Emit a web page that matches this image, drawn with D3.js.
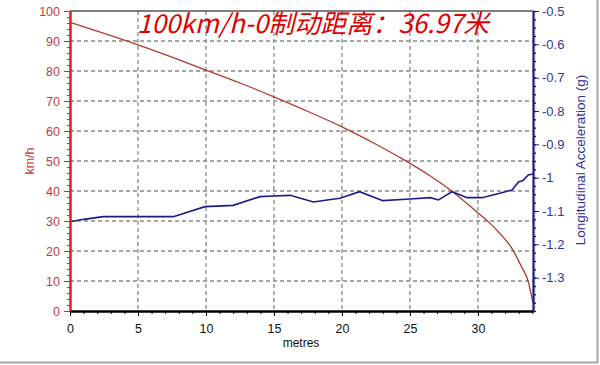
<!DOCTYPE html>
<html>
<head>
<meta charset="utf-8">
<script src="https://cdn.jsdelivr.net/npm/d3@7"></script>
<style>
    body { margin: 0; background: #fff; }
    svg { display: block; }
    .tick text { font-family: Arial, "Liberation Sans", sans-serif; }
</style>
</head>
<body>
<div id="chart"></div>
<script>
// distance along the stop (metres) vs speed (km/h)
let speedDist = [0, 2.45, 5, 7.5, 10, 12.5, 15, 17.5, 20, 22.5, 24.6, 26.5, 28.07, 29.9, 30.76, 31.6, 32.5, 33.2, 33.7, 33.9, 34.05];
let speedVals = [96.2, 92.6, 88.7, 84.6, 80.3, 76, 71.4, 66.5, 61.4, 55.6, 50.3, 45, 40, 33.1, 29.8, 25.9, 20.9, 14.8, 9.8, 5.9, 2.7];

// longitudinal acceleration (g)
let accDist = [0, 1, 2.45, 7.6, 9.93, 12, 13.97, 14.95, 16.2, 17.9, 18.9, 19.85, 21.3, 23, 25, 26.5, 27.1, 28.1, 29.2, 30.3, 31.6, 32.5, 33, 33.3, 33.7, 34.05];
let accVals = [-1.132, -1.125, -1.117, -1.117, -1.087, -1.083, -1.057, -1.055, -1.053, -1.073, -1.067, -1.062, -1.042, -1.069, -1.064, -1.06, -1.067, -1.042, -1.06, -1.06, -1.047, -1.037, -1.012, -1.009, -0.992, -0.989];

let xTicks = [0, 5, 10, 15, 20, 25, 30];
let speedTicks = [0, 10, 20, 30, 40, 50, 60, 70, 80, 90, 100];
let accTicks = [-0.5, -0.6, -0.7, -0.8, -0.9, -1, -1.1, -1.2, -1.3];

let titleText = "100km/h-0制动距离：36.97米";

let width = 600, height = 365;
let margin = { top: 11, right: 67, bottom: 54, left: 70 };

let svg = d3.select("#chart").append("svg")
    .attr("width", width)
    .attr("height", height);

svg.append("rect").attr("width", width).attr("height", height).attr("fill", "#fff");

let x = d3.scaleLinear().domain([0, 34.05]).range([margin.left, width - margin.right]);
let ySpeed = d3.scaleLinear().domain([0, 100]).range([height - margin.bottom, margin.top]);
let yAcc = d3.scaleLinear().domain([-1.4, -0.5]).range([height - margin.bottom, margin.top]);

// dashed grid
let grid = svg.append("g").attr("stroke", "#8a8a8a").attr("stroke-dasharray", "4,3").attr("stroke-width", 1.3);
grid.selectAll(".h").data(speedTicks.filter(d => d > 0 && d < 100)).enter().append("line")
    .attr("x1", margin.left).attr("x2", width - margin.right)
    .attr("y1", d => ySpeed(d)).attr("y2", d => ySpeed(d));
grid.selectAll(".v").data(xTicks.filter(d => d > 0)).enter().append("line")
    .attr("y1", margin.top).attr("y2", height - margin.bottom)
    .attr("x1", d => x(d)).attr("x2", d => x(d));

// top border
svg.append("line")
    .attr("x1", margin.left).attr("x2", width - margin.right)
    .attr("y1", margin.top).attr("y2", margin.top)
    .attr("stroke", "#000").attr("stroke-width", 1.2);

// lines
let speedLine = d3.line().x((d, i) => x(speedDist[i])).y(d => ySpeed(d)).curve(d3.curveMonotoneX);
svg.append("path").datum(speedVals)
    .attr("d", speedLine)
    .attr("fill", "none").attr("stroke", "#b23a30").attr("stroke-width", 1.3);

let accLine = d3.line().x((d, i) => x(accDist[i])).y(d => yAcc(d));
svg.append("path").datum(accVals)
    .attr("d", accLine)
    .attr("fill", "none").attr("stroke", "#1c1c8a").attr("stroke-width", 1.6);

// bottom axis (minor ticks first, then major with labels)
svg.append("g")
    .attr("transform", "translate(0," + (height - margin.bottom) + ")")
    .call(d3.axisBottom(x).tickValues(d3.range(0, 35, 1)).tickSize(3).tickFormat(""))
    .call(g => g.select(".domain").remove())
    .selectAll("line").attr("stroke", "#000");
let xAxis = svg.append("g")
    .attr("transform", "translate(0," + (height - margin.bottom) + ")")
    .call(d3.axisBottom(x).tickValues(xTicks).tickSize(5).tickSizeOuter(0).tickPadding(8));
xAxis.select(".domain").attr("stroke", "#000").attr("stroke-width", 2.5);
xAxis.selectAll("line").attr("stroke", "#000");
xAxis.selectAll("text").attr("fill", "#111").style("font-size", "12.5px");

// left axis, speed
svg.append("g")
    .attr("transform", "translate(" + margin.left + ",0)")
    .call(d3.axisLeft(ySpeed).tickValues(d3.range(0, 101, 2)).tickSize(3).tickFormat(""))
    .call(g => g.select(".domain").remove())
    .selectAll("line").attr("stroke", "#d42a2a");
let yAxisL = svg.append("g")
    .attr("transform", "translate(" + margin.left + ",0)")
    .call(d3.axisLeft(ySpeed).tickValues(speedTicks).tickSize(6).tickSizeOuter(0).tickPadding(4));
yAxisL.select(".domain").attr("stroke", "#e21e1e").attr("stroke-width", 2.5);
yAxisL.selectAll("line").attr("stroke", "#d42a2a");
yAxisL.selectAll("text").attr("fill", "#c43a3a").style("font-size", "12.5px");

// right axis, acceleration (thin green edge next to it, like the source)
svg.append("line")
    .attr("x1", width - margin.right + 2).attr("x2", width - margin.right + 2)
    .attr("y1", margin.top).attr("y2", height - margin.bottom)
    .attr("stroke", "#cfe8a8").attr("stroke-width", 1);
let hyphen = d => d3.format("")(d).replace("−", "-");
svg.append("g")
    .attr("transform", "translate(" + (width - margin.right) + ",0)")
    .call(d3.axisRight(yAcc).tickValues(d3.range(-1.4, -0.49, 0.025)).tickSize(3).tickFormat(""))
    .call(g => g.select(".domain").remove())
    .selectAll("line").attr("stroke", "#1c1c8a").attr("stroke-width", 1.4);
let yAxisR = svg.append("g")
    .attr("transform", "translate(" + (width - margin.right) + ",0)")
    .call(d3.axisRight(yAcc).tickValues(accTicks).tickSize(6).tickSizeOuter(0).tickPadding(3).tickFormat(hyphen));
yAxisR.select(".domain").attr("stroke", "#1c1c8a").attr("stroke-width", 2.2);
yAxisR.selectAll("line").attr("stroke", "#1c1c8a");
yAxisR.selectAll("text").attr("fill", "#34349a").style("font-size", "13px");

// axis titles
svg.append("text")
    .attr("x", 301).attr("y", 347)
    .attr("text-anchor", "middle")
    .attr("font-family", "Arial, 'Liberation Sans', sans-serif")
    .attr("font-size", 12).attr("fill", "#111")
    .text("metres");

svg.append("text")
    .attr("transform", "translate(34,161) rotate(-90)")
    .attr("text-anchor", "middle")
    .attr("font-family", "Arial, 'Liberation Sans', sans-serif")
    .attr("font-size", 12.5).attr("fill", "#c43a3a")
    .text("km/h");

svg.append("text")
    .attr("transform", "translate(585,160) rotate(-90)")
    .attr("text-anchor", "middle")
    .attr("font-family", "Arial, 'Liberation Sans', sans-serif")
    .attr("font-size", 13.5).attr("fill", "#2e2e96")
    .text("Longitudinal Acceleration (g)");

// big red title
svg.append("text")
    .attr("x", 137).attr("y", 33)
    .attr("font-family", "'Noto Sans CJK SC', sans-serif")
    .attr("font-style", "italic")
    .attr("font-size", 26).attr("fill", "#e00000")
    .text(titleText);

// screenshot frame on right and bottom
svg.append("path")
    .attr("d", "M0," + (height - 2.5) + "H" + (width - 2.5) + "V0")
    .attr("fill", "none").attr("stroke", "#a8a8a8").attr("stroke-width", 2);
</script>
</body>
</html>
